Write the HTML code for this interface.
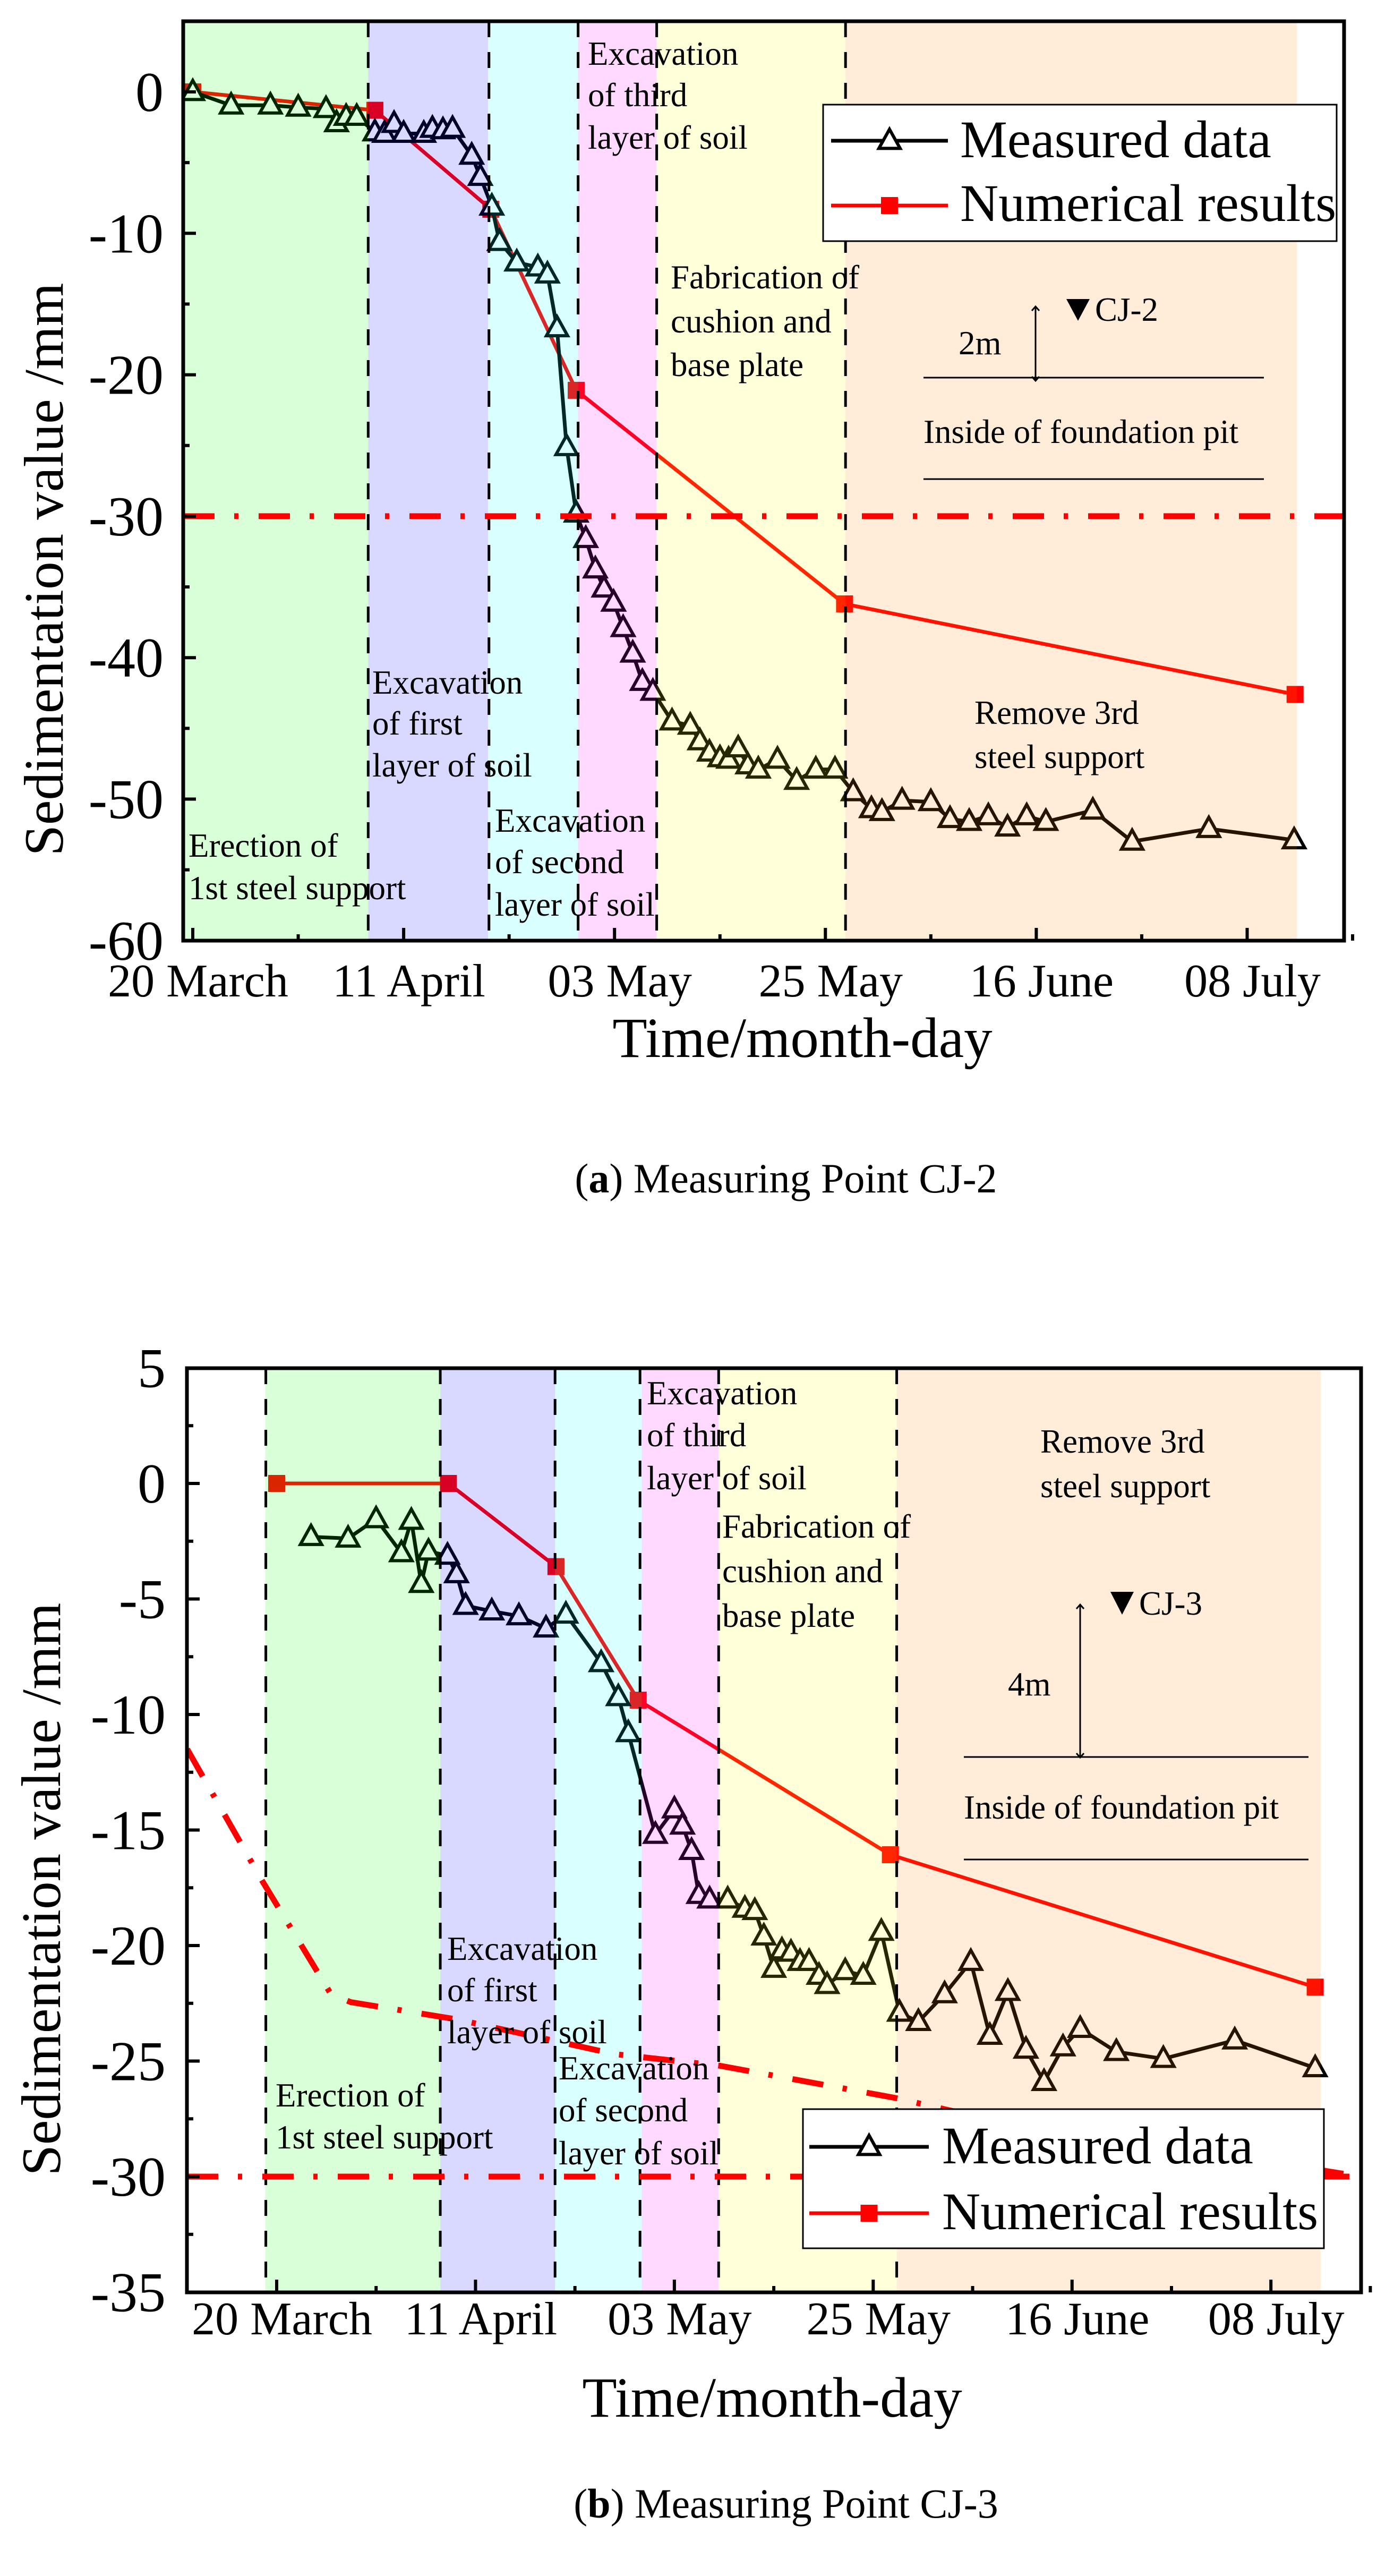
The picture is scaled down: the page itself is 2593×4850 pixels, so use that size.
<!DOCTYPE html>
<html><head><meta charset="utf-8"><style>
html,body{margin:0;padding:0;background:#fff;}
svg{display:block;font-family:"Liberation Serif",serif;}
text{font-family:"Liberation Serif",serif;}
</style></head><body>
<svg id="fig" xmlns="http://www.w3.org/2000/svg" width="2593" height="4850" viewBox="0 0 2593 4850"></svg>
<script>
// ---------- DATA ----------
const xTickDays = [0, 22, 44, 66, 88, 110];
const xTickLabels = ["20 March", "11 April", "03 May", "25 May", "16 June", "08 July"];

// Chart (a) CJ-2
const aYTicks = [0, -10, -20, -30, -40, -50, -60];
const aMeasDays = [0,4,8.1,11,13.9,15,16,17.1,19,20,21,22,24.1,25,26.1,27.1,29.1,30,31.2,32,33.8,36,37,38,39,40,41,42,42.9,43.9,44.9,45.9,46.9,48,50,51.9,52.9,53.9,55,55.9,56.9,57.9,59,61,63,65,67,68.9,70.8,71.9,74,77,79,81,83,85,87,89,93.9,98,106,114.9];
const aMeasVals = [0,-0.95,-0.95,-1.1,-1.2,-2.2,-1.75,-1.75,-2.85,-2.95,-2.25,-2.95,-2.95,-2.6,-2.7,-2.6,-4.5,-6.0,-8.1,-10.6,-12.05,-12.4,-12.9,-16.7,-25.1,-29.8,-31.6,-33.75,-35.1,-36.1,-37.9,-39.7,-41.7,-42.4,-44.5,-44.8,-45.9,-46.7,-47.1,-47.2,-46.4,-47.6,-47.9,-47.2,-48.7,-47.9,-47.9,-49.5,-50.7,-50.9,-50.1,-50.2,-51.4,-51.6,-51.2,-52.0,-51.2,-51.6,-50.8,-53.0,-52.1,-52.9];
const aNumDays = [0, 19, 31.1, 40, 68, 115];
const aNumVals = [0, -1.3, -8.3, -21.1, -36.2, -42.6];
const aLimitVal = -30;
const aPhaseEdges = [-1.2, 18.3, 30.8, 40.2, 48.4, 68.1, 115.2];
const aDashDays = [18.3, 30.9, 40.2, 48.4, 68.1];

// Chart (b) CJ-3
const bYTicks = [5, 0, -5, -10, -15, -20, -25, -30, -35];
const bMeasDays = [3.8,7.9,11,13.8,14.9,16,16.8,18.9,19.9,20.9,23.8,26.8,29.8,32,35.9,37.8,38.9,41.9,44,44.9,45.9,46.7,47.9,49.9,51.8,52.9,53.9,55,55.9,56.9,57.9,58.9,60,60.9,62.9,64.9,66.9,68.9,71,73.9,76.8,78.9,80.9,82.9,84.9,87,88.9,92.9,98.1,106,114.9];
const bMeasVals = [-2.31,-2.38,-1.54,-3.01,-1.61,-4.34,-2.94,-3.12,-3.92,-5.29,-5.53,-5.74,-6.27,-5.67,-7.77,-9.24,-10.8,-15.2,-14.1,-14.8,-15.9,-17.8,-18.0,-18.0,-18.4,-18.5,-19.6,-21.0,-20.2,-20.3,-20.7,-20.7,-21.3,-21.7,-21.1,-21.3,-19.4,-22.9,-23.3,-22.1,-20.7,-23.9,-22.0,-24.5,-25.9,-24.4,-23.6,-24.6,-24.9,-24.1,-25.3];
const bNumDays = [0, 19, 30.9, 40, 67.9, 114.9];
const bNumVals = [0, 0, -3.6, -9.38, -16.07, -21.8];
const bWarnDays = [-9.9, -1.6, 6.0, 8.2, 20, 37.4, 49.0, 68.5, 76.3, 120];
const bWarnVals = [-11.5, -17.2, -22.1, -22.45, -23.2, -24.7, -25.2, -26.6, -27.3, -30.0];
const bLimitVal = -30;
const bPhaseEdges = [-1.26, 18.1, 30.8, 40.4, 48.9, 68.6, 115.5];
const bDashDays = [-1.2, 18.1, 30.8, 40.2, 48.9, 68.6];

const phaseColors = ["rgba(0,255,0,0.15)","rgba(0,0,255,0.15)","rgba(0,255,255,0.15)","rgba(255,0,255,0.15)","rgba(255,255,0,0.15)","rgba(255,128,0,0.15)"];
const phaseNames = ["phase-erection","phase-excavation-1","phase-excavation-2","phase-excavation-3","phase-fabrication","phase-remove-support"];

// ---------- DRAWING ----------
const NS = "http://www.w3.org/2000/svg";
const svg = document.getElementById("fig");
const FONT = '"Liberation Serif", serif';
function mk(tag, attrs, parent) {
  const e = document.createElementNS(NS, tag);
  for (const k in attrs) e.setAttribute(k, attrs[k]);
  (parent || svg).appendChild(e);
  return e;
}
function txt(str, x, y, size, parent, anchor) {
  const t = mk("text", {x: x, y: y, "font-size": size, "font-family": FONT, fill: "#000", "text-anchor": anchor || "start"}, parent);
  t.textContent = str;
  return t;
}
function multi(lines, x, ys, size, g, name) {
  const grp = mk("g", {}, g);
  
  
  lines.forEach((l, i) => txt(l, x, ys[i], size, grp));
}
function triPath(cx, cy, s) {
  const h = s * 0.9;
  return `M${cx},${cy - h*0.6} L${cx + s/2},${cy + h*0.4} L${cx - s/2},${cy + h*0.4} Z`;
}

function drawChart(c) {
  const g = mk("g", {});
  
  
  const X = d => c.x0 + c.pxDay * d;
  const Y = v => c.y0 - c.pxUnit * v;
  const L = c.left, R = c.right, T = c.top, B = c.bottom;

  const clipId = c.name + "-clip";
  const cp = mk("clipPath", {id: clipId}, g);
  mk("rect", {x: L, y: T, width: R - L, height: B - T}, cp);
  const plot = mk("g", {"clip-path": `url(#${clipId})`}, g);
  
  

  const numPts = c.numDays.map((d, i) => X(d) + "," + Y(c.numVals[i])).join(" ");
  const numLine = mk("polyline", {points: numPts, fill: "none", stroke: "#ff0000", "stroke-width": 7}, plot);
  
  
  c.numDays.forEach((d, i) => {
    const sq = mk("rect", {x: X(d) - 16, y: Y(c.numVals[i]) - 16, width: 32, height: 32, fill: "#ff0000"}, plot);
    
    
  });

  const mPts = c.measDays.map((d, i) => X(d) + "," + Y(c.measVals[i])).join(" ");
  const mLine = mk("polyline", {points: mPts, fill: "none", stroke: "#000", "stroke-width": 7, "stroke-linejoin": "round"}, plot);
  
  
  c.measDays.forEach((d, i) => {
    const tri = mk("path", {d: triPath(X(d), Y(c.measVals[i]), 40), fill: "#fff", stroke: "#000", "stroke-width": 6, "stroke-linejoin": "miter"}, plot);
    
    
  });

  for (let i = 0; i < 6; i++) {
    const r = mk("rect", {x: X(c.phases[i]), y: T, width: X(c.phases[i+1]) - X(c.phases[i]), height: B - T, fill: phaseColors[i]}, plot);
    
    
  }
  c.dashes.forEach(d => {
    const l = mk("line", {x1: X(d), x2: X(d), y1: T, y2: B, stroke: "#000", "stroke-width": 5, "stroke-dasharray": "30 28"}, plot);
    
    
  });
  const lim = mk("line", {x1: L, x2: R, y1: Y(c.limit), y2: Y(c.limit), stroke: "#ff0000", "stroke-width": 11, "stroke-dasharray": "59 37 8 38"}, plot);
  
  
  if (c.warnDays) {
    const wp = c.warnDays.map((d, i) => X(d) + "," + Y(c.warnVals[i])).join(" ");
    const w = mk("polyline", {points: wp, fill: "none", stroke: "#ff0000", "stroke-width": 11, "stroke-dasharray": "59 37 8 38"}, plot);
    
    
  }

  c.notes(g);

  const lg = mk("g", {}, g);
  
  
  const lb = c.legend;
  mk("rect", {x: lb.x, y: lb.y, width: lb.w, height: lb.h, fill: "#fff", stroke: "#000", "stroke-width": 3}, lg);
  const e1 = mk("g", {}, lg);
  
  
  mk("line", {x1: lb.lx1, x2: lb.lx2, y1: lb.r1, y2: lb.r1, stroke: "#000", "stroke-width": 7}, e1);
  mk("path", {d: triPath((lb.lx1 + lb.lx2) / 2, lb.r1, 40), fill: "#fff", stroke: "#000", "stroke-width": 6}, e1);
  txt("Measured data", lb.tx, lb.b1, 100, e1);
  const e2 = mk("g", {}, lg);
  
  
  mk("line", {x1: lb.lx1, x2: lb.lx2, y1: lb.r2, y2: lb.r2, stroke: "#ff0000", "stroke-width": 7}, e2);
  mk("rect", {x: (lb.lx1 + lb.lx2) / 2 - 16, y: lb.r2 - 16, width: 32, height: 32, fill: "#ff0000"}, e2);
  txt("Numerical results", lb.tx, lb.b2, 100, e2);

  const fr = mk("rect", {x: L, y: T, width: R - L, height: B - T, fill: "none", stroke: "#000", "stroke-width": 7}, g);
  
  

  const ya = mk("g", {}, g);
  
  
  c.yTicks.forEach(v => {
    mk("line", {x1: L, x2: L + 24, y1: Y(v), y2: Y(v), stroke: "#000", "stroke-width": 6}, ya);
    const t = txt(String(v), c.yLabelX, Y(v) + 36, 106, ya, "end");
    
    
  });
  for (let i = 0; i < c.yTicks.length - 1; i++) {
    const v = (c.yTicks[i] + c.yTicks[i+1]) / 2;
    mk("line", {x1: L, x2: L + 12, y1: Y(v), y2: Y(v), stroke: "#000", "stroke-width": 6}, ya);
  }
  const xa = mk("g", {}, g);
  
  
  xTickDays.forEach((d, i) => {
    mk("line", {x1: X(d), x2: X(d), y1: B, y2: B - 24, stroke: "#000", "stroke-width": 6}, xa);
    mk("line", {x1: X(d + 11), x2: X(d + 11), y1: B, y2: B - 12, stroke: "#000", "stroke-width": 6}, xa);
    const t = txt(xTickLabels[i], X(d) + 10, c.xLabelY, 88, xa, "middle");
    
    
  });
  const yt = txt("Sedimentation value /mm", 0, 0, 105, g, "middle");
  yt.setAttribute("transform", `translate(${c.yTitleX},${c.yTitleY}) rotate(-90)`);
  
  
  const xt = txt("Time/month-day", c.xTitleX, c.xTitleY, 107, g, "middle");
  
  
  const cap = mk("text", {x: c.capX, y: c.capY, "font-size": 78, "font-family": FONT, "text-anchor": "middle", fill: "#000"}, g);
  
  
  const t1 = mk("tspan", {}, cap); t1.textContent = "(";
  const t2 = mk("tspan", {"font-weight": "bold"}, cap); t2.textContent = c.capLetter;
  const t3 = mk("tspan", {}, cap); t3.textContent = ") " + c.capText;
}

function inset(g, o) {
  const ig = mk("g", {}, g);
  
  
  mk("line", {x1: o.ax, x2: o.ax, y1: o.ay1, y2: o.ay2, stroke: "#000", "stroke-width": 3}, ig);
  mk("path", {d: `M${o.ax-7},${o.ay1+8} L${o.ax},${o.ay1} L${o.ax+7},${o.ay1+8} M${o.ax-7},${o.ay2-8} L${o.ax},${o.ay2} L${o.ax+7},${o.ay2-8}`, fill: "none", stroke: "#000", "stroke-width": 3}, ig);
  mk("path", {d: `M${o.tx-22},${o.ty1} L${o.tx+22},${o.ty1} L${o.tx},${o.ty2} Z`, fill: "#000"}, ig);
  txt(o.label, o.tx + 32, o.ty2, 63, ig);
  txt(o.depth, o.dx, o.dy, 63, ig);
  mk("line", {x1: o.lx1, x2: o.lx2, y1: o.ly1, y2: o.ly1, stroke: "#000", "stroke-width": 3}, ig);
  txt("Inside of foundation pit", o.lx1, o.iy, 63, ig);
  mk("line", {x1: o.lx1, x2: o.lx2, y1: o.ly2, y2: o.ly2, stroke: "#000", "stroke-width": 3}, ig);
}

drawChart({
  name: "chart-cj2", left: 345, right: 2531, top: 40, bottom: 1771,
  x0: 363, pxDay: 18.05, y0: 173, pxUnit: 26.63,
  measDays: aMeasDays, measVals: aMeasVals, numDays: aNumDays, numVals: aNumVals,
  phases: aPhaseEdges, dashes: aDashDays, limit: aLimitVal,
  yTicks: aYTicks, yLabelX: 308, xLabelY: 1876,
  yTitleX: 118, yTitleY: 1072, xTitleX: 1511, xTitleY: 1990,
  capX: 1480, capY: 2245, capLetter: "a", capText: "Measuring Point CJ-2",
  legend: {x: 1550, y: 197, w: 967, h: 257, lx1: 1565, lx2: 1785, r1: 265, r2: 387, tx: 1808, b1: 296, b2: 416},
  notes: g => {
    multi(["Excavation", "of third", "layer of soil"], 1107, [122, 200, 280], 63, g, "note-third-layer");
    multi(["Fabrication of", "cushion and", "base plate"], 1263, [543, 626, 708], 63, g, "note-fabrication");
    multi(["Remove 3rd", "steel support"], 1835, [1363, 1446], 63, g, "note-remove-support");
    multi(["Excavation", "of first", "layer of soil"], 701, [1306, 1383, 1462], 63, g, "note-first-layer");
    multi(["Excavation", "of second", "layer of soil"], 932, [1566, 1644, 1724], 63, g, "note-second-layer");
    multi(["Erection of", "1st steel support"], 355, [1613, 1693], 63, g, "note-erection");
    inset(g, {ax: 1950, ay1: 577, ay2: 717, tx: 2030, ty1: 563, ty2: 604, label: "CJ-2", depth: "2m", dx: 1805, dy: 667, lx1: 1739, lx2: 2380, ly1: 711, ly2: 902, iy: 834});
  }
});

drawChart({
  name: "chart-cj3", left: 352, right: 2563, top: 2576, bottom: 4316,
  x0: 521, pxDay: 17.02, y0: 2793, pxUnit: 43.5,
  measDays: bMeasDays, measVals: bMeasVals, numDays: bNumDays, numVals: bNumVals,
  warnDays: bWarnDays, warnVals: bWarnVals,
  phases: bPhaseEdges, dashes: bDashDays, limit: bLimitVal,
  yTicks: bYTicks, yLabelX: 312, xLabelY: 4395,
  yTitleX: 113, yTitleY: 3557, xTitleX: 1454, xTitleY: 4550,
  capX: 1480, capY: 4740, capLetter: "b", capText: "Measuring Point CJ-3",
  legend: {x: 1512, y: 3971, w: 981, h: 262, lx1: 1524, lx2: 1749, r1: 4042, r2: 4167, tx: 1774, b1: 4073, b2: 4197},
  notes: g => {
    multi(["Excavation", "of third", "layer of soil"], 1218, [2644, 2723, 2804], 63, g, "note-third-layer");
    multi(["Fabrication of", "cushion and", "base plate"], 1360, [2895, 2979, 3063], 63, g, "note-fabrication");
    multi(["Remove 3rd", "steel support"], 1959, [2735, 2819], 63, g, "note-remove-support");
    multi(["Excavation", "of first", "layer of soil"], 842, [3690, 3768, 3847], 63, g, "note-first-layer");
    multi(["Excavation", "of second", "layer of soil"], 1052, [3915, 3994, 4075], 63, g, "note-second-layer");
    multi(["Erection of", "1st steel support"], 519, [3966, 4045], 63, g, "note-erection");
    inset(g, {ax: 2034, ay1: 3021, ay2: 3309, tx: 2113, ty1: 2997, ty2: 3040, label: "CJ-3", depth: "4m", dx: 1898, dy: 3192, lx1: 1815, lx2: 2464, ly1: 3308, ly2: 3501, iy: 3424});
  }
});
</script>
</body></html>
